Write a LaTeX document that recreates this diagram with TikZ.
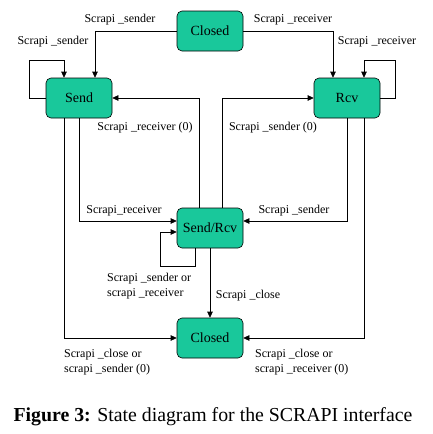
\documentclass[tikz,border=0pt]{standalone}
\usepackage{fontspec}
\setmainfont{Liberation Serif}
\usetikzlibrary{arrows.meta,calc}
\definecolor{cState}{HTML}{19C89B}
\tikzset{
  >={Triangle[length=6pt,width=5.5pt]},
  state/.style={draw=black, fill=cState, rounded corners=5pt, line width=0.6pt,
                minimum width=66pt, minimum height=40pt,
                font=\fontsize{14}{16}\selectfont},
  lbl/.style={font=\fontsize{12}{15}\selectfont, inner sep=0pt, align=left},
  flow/.style={->, line width=0.6pt},
  caption/.style={font=\fontsize{19.8}{24}\selectfont, inner sep=0pt},
}

\begin{document}
\begin{tikzpicture}[x=1pt, y=-1pt]
\useasboundingbox (0,0) rectangle (433,434);

% ------------------------------------------------------------------ states
\node[state] (closedT) at (210,31)  {Closed};
\node[state] (send)    at (79,98)   {Send};
\node[state] (rcv)     at (347,98)  {Rcv};
\node[state] (both)    at (210,228) {Send/Rcv};
\node[state] (closedB) at (210,338) {Closed};

% ------------------------------------------------------------------ from closed
\draw[flow] (closedT.west) -| ([xshift=16pt]send.north);
\draw[flow] (closedT.east) -| ([xshift=-14pt]rcv.north);
\node[lbl] (l1) at (120,20) {Scrapi \_sender};
\node[lbl] (l2) at (293,20) {Scrapi \_receiver};

% self loops on send and rcv
\draw[flow] (send.west) -- ++(-16pt,0pt) |- ([xshift=-15pt,yshift=17pt]send.north)
  -- ([xshift=-15pt]send.north);
\draw[flow] (rcv.east) -- ++(15pt,0pt) |- ([xshift=17pt,yshift=17pt]rcv.north)
  -- ([xshift=17pt]rcv.north);
\node[lbl] (l3) at (53,42)  {Scrapi \_sender};
\node[lbl] (l4) at (377,42) {Scrapi \_receiver};

% ------------------------------------------------------------------ send/rcv back out
\draw[flow] ([xshift=-11pt]both.north) |- (send.east);
\draw[flow] ([xshift=12pt]both.north) |- (rcv.west);
\node[lbl] (l5) at (145,128) {Scrapi \_receiver (0)};
\node[lbl] (l6) at (273,128) {Scrapi \_sender (0)};

% into send/rcv
\draw[flow] (send.south) |- ([yshift=7pt]both.west);
\draw[flow] (rcv.south) |- ([yshift=7pt]both.east);
\node[lbl] (l7) at (124,211) {Scrapi\_receiver};
\node[lbl] (l8) at (294,211) {Scrapi \_sender};

\draw[flow] ([xshift=-15pt]both.south) -- ++(0pt,-18pt)
  -| ([xshift=-16pt,yshift=-4pt]both.west) -- ([yshift=-4pt]both.west);
\node[lbl, anchor=west] (l9) at (107,286) {Scrapi \_sender or\\scrapi \_receiver};

% ------------------------------------------------------------------ to closed
\draw[flow] (both.south) -- (closedB.north);
\node[lbl] (l10) at (248,296) {Scrapi \_close};
\draw[flow] ([xshift=-15pt]send.south) |- (closedB.west);
\draw[flow] ([xshift=17pt]rcv.south) |- (closedB.east);
\node[lbl, anchor=west] (l11) at (64,362)  {Scrapi \_close or\\scrapi \_sender (0)};
\node[lbl, anchor=west] (l12) at (255,362) {Scrapi \_close or\\scrapi \_receiver (0)};

% ------------------------------------------------------------------ caption
\node[caption] (cap) at (213,417) {\textbf{Figure 3:} State diagram for the SCRAPI interface};

\end{tikzpicture}
\end{document}
